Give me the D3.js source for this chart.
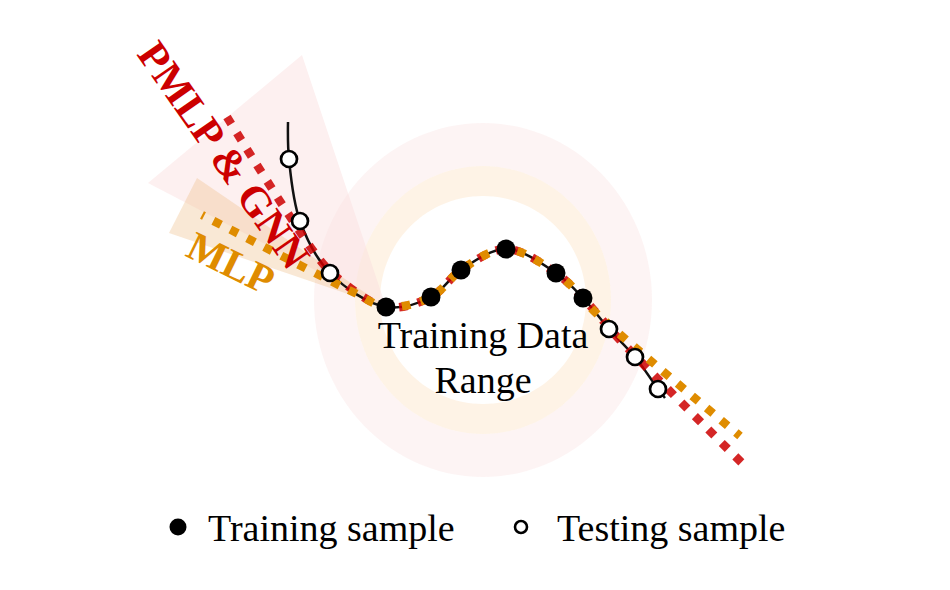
<!DOCTYPE html>
<html><head><meta charset="utf-8">
<script src="https://cdn.jsdelivr.net/npm/d3@7"></script>
<style>body{margin:0;background:#fff;} svg{display:block;}</style>
</head><body>
<svg id="c" width="950" height="590"></svg>
<script>
// ---- data (abstract units) ----
const curveX = [-1.87, -1.86, -1.75, -1.45, -0.89, -0.44, -0.14, 0.31, 0.81, 1.08, 1.34, 1.60, 1.83, 1.90];
const curveY = [ 1.78,  1.41,  0.79,  0.27, -0.07,  0.03,  0.30, 0.51, 0.27, 0.02, -0.29, -0.57, -0.89, -0.98];
const trainX = [-0.89, -0.44, -0.14, 0.31, 0.81, 1.08];
const trainY = [-0.07,  0.03,  0.30, 0.51, 0.27, 0.02];
const testX  = [-1.86, -1.75, -1.45, 1.34, 1.60, 1.83];
const testY  = [ 1.41,  0.79,  0.27, -0.29, -0.57, -0.89];
const pmlpX  = [-2.48, -1.55, -1.35, -0.89, -0.44, -0.14, 0.31, 0.81, 1.08, 1.45, 2.67];
const pmlpY  = [ 1.83,  0.40,  0.20, -0.07,  0.03,  0.30, 0.51, 0.27, 0.02, -0.40, -1.63];
const mlpX   = [-2.73, -1.52, -1.20, -0.89, -0.44, -0.14, 0.31, 0.81, 1.08, 1.18, 2.65];
const mlpY   = [ 0.85,  0.23,  0.07, -0.07,  0.03,  0.30, 0.51, 0.27, 0.02, -0.10, -1.36];
const pmlpConeX = [-3.27, -1.73, -0.89];
const pmlpConeY = [ 1.17,  2.45, -0.07];
const mlpConeX  = [-2.78, -3.06, -0.89];
const mlpConeY  = [ 1.22,  0.67, -0.07];
const labels = {pmlp: "PMLP & GNN", mlp: "MLP", range: ["Training Data", "Range"], train: "Training sample", test: "Testing sample"};

const svg = d3.select("#c");
const x = d3.scaleLinear().domain([-4, 4]).range([75, 875]);
const y = d3.scaleLinear().domain([-2, 2]).range([500, 100]);
const unitX = x(1) - x(0), unitY = y(0) - y(1);

const RED = "#cc0000", ORANGE = "#df8c00";

// ---- background rings (training data range) ----
function ellipsePath(cx, cy, rx, ry) {
  const p = d3.path();
  const n = 120;
  for (let i = 0; i <= n; i++) {
    const a = 2 * Math.PI * i / n;
    const px = x(cx) + rx * unitX * Math.cos(a), py = y(cy) + ry * unitY * Math.sin(a);
    if (i === 0) p.moveTo(px, py); else p.lineTo(px, py);
  }
  p.closePath();
  return p.toString();
}
const ringC = [0.08, 0.0];
svg.append("path").attr("d", ellipsePath(ringC[0], ringC[1], 1.69, 1.77) + ellipsePath(ringC[0], ringC[1], 1.28, 1.34))
  .attr("fill-rule", "evenodd").attr("fill", "rgb(251,228,228)").attr("opacity", 0.42);
svg.append("path").attr("d", ellipsePath(ringC[0], ringC[1], 1.28, 1.34) + ellipsePath(ringC[0], ringC[1], 1.03, 1.04))
  .attr("fill-rule", "evenodd").attr("fill", "rgb(252,226,196)").attr("opacity", 0.42);

// ---- cones ----
const poly = (xs, ys) => "M" + xs.map((v, i) => x(v) + "," + y(ys[i])).join("L") + "Z";
svg.append("path").attr("d", poly(pmlpConeX, pmlpConeY)).attr("fill", "rgb(251,222,222)").attr("opacity", 0.45);
svg.append("path").attr("d", poly(mlpConeX, mlpConeY)).attr("fill", "rgb(238,190,135)").attr("opacity", 0.35);

// ---- true function ----
const line = d3.line().x(d => x(d[0])).y(d => y(d[1])).curve(d3.curveCatmullRom.alpha(0.5));
svg.append("path").attr("d", line(curveX.map((v, i) => [v, curveY[i]])))
  .attr("fill", "none").attr("stroke", "#111").attr("stroke-width", 2.5);

// ---- predictions ----
svg.append("path").attr("d", line(pmlpX.map((v, i) => [v, pmlpY[i]])))
  .attr("fill", "none").attr("stroke", RED).attr("stroke-width", 8.5)
  .attr("stroke-dasharray", "8.5 10.5").attr("opacity", 0.85);
svg.append("path").attr("d", line(mlpX.map((v, i) => [v, mlpY[i]])))
  .attr("fill", "none").attr("stroke", ORANGE).attr("stroke-width", 8.5)
  .attr("stroke-dasharray", "8.5 10.5").attr("stroke-dashoffset", 6);

// ---- samples ----
svg.selectAll("circle.train").data(trainX.map((v, i) => [v, trainY[i]])).join("circle")
  .attr("class", "train").attr("cx", d => x(d[0])).attr("cy", d => y(d[1])).attr("r", 9.5).attr("fill", "#000");
svg.selectAll("circle.test").data(testX.map((v, i) => [v, testY[i]])).join("circle")
  .attr("class", "test").attr("cx", d => x(d[0])).attr("cy", d => y(d[1])).attr("r", 8)
  .attr("fill", "#fff").attr("stroke", "#000").attr("stroke-width", 2.7);

// ---- labels ----
const serif = "'Liberation Serif', 'Times New Roman', serif";
svg.append("text").attr("transform", "translate(224,155) rotate(55)")
  .attr("text-anchor", "middle").attr("dy", "0.34em")
  .attr("font-family", serif).attr("font-weight", "bold").attr("font-size", 42)
  .attr("fill", RED).text(labels.pmlp);
svg.append("text").attr("transform", "translate(231,263) rotate(26)")
  .attr("text-anchor", "middle").attr("dy", "0.34em")
  .attr("font-family", serif).attr("font-weight", "bold").attr("font-size", 41)
  .attr("fill", ORANGE).text(labels.mlp);
labels.range.forEach((t, i) => {
  svg.append("text").attr("x", 483).attr("y", 348 + i * 45).attr("text-anchor", "middle")
    .attr("font-family", serif).attr("font-size", 38).attr("fill", "#000").text(t);
});

// ---- legend ----
svg.append("circle").attr("cx", 178).attr("cy", 527).attr("r", 8.5).attr("fill", "#000");
svg.append("text").attr("x", 208).attr("y", 541).attr("font-family", serif).attr("font-size", 38).text(labels.train);
svg.append("circle").attr("cx", 521).attr("cy", 527).attr("r", 6).attr("fill", "#fff").attr("stroke", "#000").attr("stroke-width", 2.6);
svg.append("text").attr("x", 557).attr("y", 541).attr("font-family", serif).attr("font-size", 38).text(labels.test);
</script>
</body></html>
